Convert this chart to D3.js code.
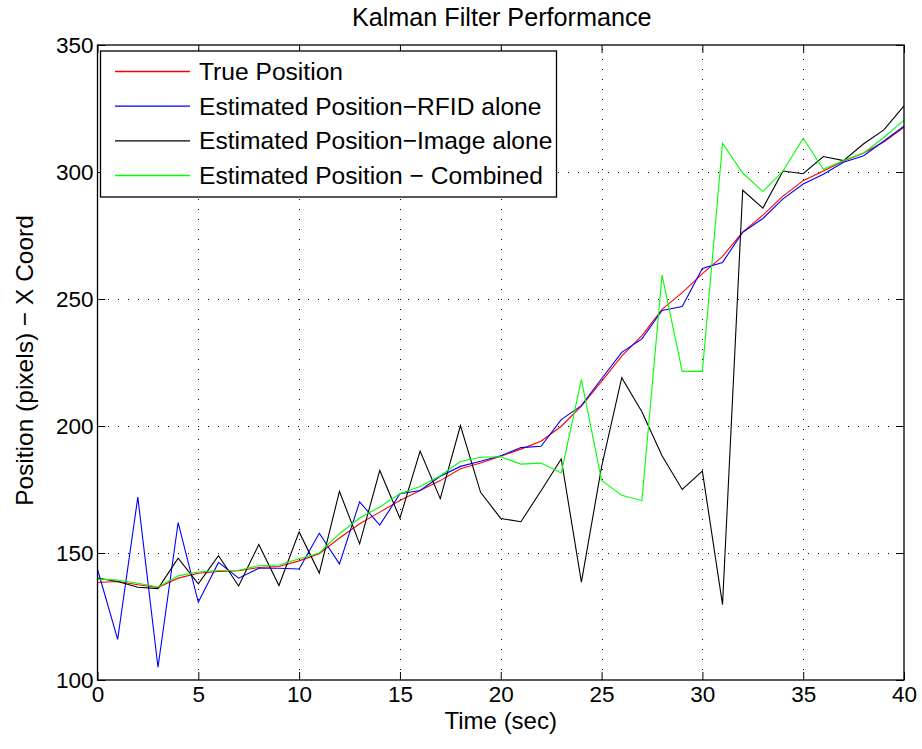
<!DOCTYPE html>
<html>
<head>
<meta charset="utf-8">
<script src="https://cdn.jsdelivr.net/npm/d3@7"></script>
<style>
  html, body { margin: 0; padding: 0; background: #fff; }
  svg { display: block; font-family: "Liberation Sans", Arial, Helvetica, sans-serif; }
</style>
</head>
<body>
<svg id="chart" width="922" height="749"></svg>
<script>
// ---- data ----
const time = d3.range(0, 41);
const truePos = [138.4,138.8,137.5,136.4,140.1,142,142.7,143,144.3,144.7,146.9,149.7,155.9,161.5,166.1,170.7,174.6,178.5,183.2,185.4,188.1,190.9,194,199.9,207.8,217.6,227.5,235.6,245.9,252.5,260,266.8,276.3,283,290.5,296.6,300.4,304.3,307.5,311.8,317.6];
const rfidPos = [143.6,116,172,105,162,130.6,146.3,140.1,144,144,143.7,157.8,145.7,170.1,161,173.3,174.6,180.2,184.1,186.1,188.3,191.5,192,202.5,208,218.6,229,234.3,245.5,247,262,264.4,276.3,281.7,289.4,295.3,299.1,303.8,306.4,312.2,318];
const imagePos = [140.1,138.8,136.5,136,148,137.9,148.9,137,153.3,137.2,158.3,142.1,174.3,153.6,182.5,163.7,190.1,171.4,200.2,173.9,163.6,162.3,174.5,187,138.5,183.9,219,205.6,188.3,175,182.2,129.7,292.8,285.8,300.4,299.3,306.1,304.5,311.1,316.6,326];
const combinedPos = [139.7,139.4,138.1,136.6,141,142.5,143.1,143.2,145,145.3,147.7,150,157.6,163.8,168.1,173.3,176.2,180.4,186,187.7,187.9,185,185.4,181.5,218.3,178.6,172.7,170.6,259.4,221.5,221.5,311.3,299.6,292.3,300.4,313.3,301.1,304.5,307.5,313.6,320.4];

const seriesNames = ["True Position", "Estimated Position\u2212RFID alone", "Estimated Position\u2212Image alone", "Estimated Position \u2212 Combined"];
const seriesColors = ["#ff0000", "#0000ff", "#000000", "#00ff00"];
const seriesData = [truePos, rfidPos, imagePos, combinedPos];

const xTicks = [0,5,10,15,20,25,30,35,40];
const yTicks = [100,150,200,250,300,350];

const titleText = "Kalman Filter Performance";
const xLabel = "Time (sec)";
const yLabel = "Position (pixels) \u2212 X Coord";

// ---- layout ----
const L = 97.5, R = 904, T = 45, B = 680;
const svg = d3.select("#chart");
const x = d3.scaleLinear().domain([0, 40]).range([L, R]);
const y = d3.scaleLinear().domain([100, 350]).range([B, T]);

// grid
const grid = svg.append("g").attr("stroke", "#000").attr("stroke-width", 1).attr("stroke-dasharray", "1,9").attr("shape-rendering", "crispEdges");
grid.selectAll("line.vx").data(xTicks.filter(d => d > 0 && d < 40)).join("line")
  .attr("x1", d => Math.round(x(d)) + 0.5).attr("x2", d => Math.round(x(d)) + 0.5)
  .attr("y1", B).attr("y2", T);
grid.selectAll("line.hy").data(yTicks.filter(d => d > 100 && d < 350)).join("line")
  .attr("y1", d => Math.round(y(d)) + 0.5).attr("y2", d => Math.round(y(d)) + 0.5)
  .attr("x1", L).attr("x2", R);

// lines
const line = d3.line().x((d, i) => x(time[i])).y(d => y(d));
seriesData.forEach((s, k) => {
  svg.append("path").datum(s)
    .attr("fill", "none").attr("stroke", seriesColors[k]).attr("stroke-width", 1.1)
    .attr("stroke-linejoin", "miter")
    .attr("d", line);
});

// axes
const tickFont = 22.5;
const xAxis = svg.append("g").attr("transform", `translate(0,${B})`)
  .call(d3.axisBottom(x).tickValues(xTicks).tickSize(-8).tickPadding(6).tickSizeOuter(0).tickFormat(d3.format("d")));
const yAxis = svg.append("g").attr("transform", `translate(${L},0)`)
  .call(d3.axisLeft(y).tickValues(yTicks).tickSize(-8).tickPadding(4).tickSizeOuter(0).tickFormat(d3.format("d")));
const xTop = svg.append("g").attr("transform", `translate(0,${T})`)
  .call(d3.axisTop(x).tickValues(xTicks).tickSize(-8).tickSizeOuter(0).tickFormat(""));
const yRight = svg.append("g").attr("transform", `translate(${R},0)`)
  .call(d3.axisRight(y).tickValues(yTicks).tickSize(-8).tickSizeOuter(0).tickFormat(""));
[xAxis, yAxis, xTop, yRight].forEach(g => {
  g.select(".domain").remove();
  g.selectAll("line").attr("stroke", "#000").attr("stroke-width", 1);
  g.selectAll("text").attr("font-size", tickFont).attr("font-family", "Liberation Sans, Arial, sans-serif").attr("fill", "#000");
});

// box
svg.append("rect").attr("x", L).attr("y", T).attr("width", R - L).attr("height", B - T)
  .attr("fill", "none").attr("stroke", "#000").attr("stroke-width", 1.3);

// title & labels
svg.append("text").attr("x", (L + R) / 2 + 1).attr("y", 26).attr("text-anchor", "middle")
  .attr("font-size", 25.2).text(titleText);
svg.append("text").attr("x", (L + R) / 2).attr("y", 728.5).attr("text-anchor", "middle")
  .attr("font-size", 24).text(xLabel);
svg.append("text").attr("transform", `translate(33,${(T + B) / 2 - 2}) rotate(-90)`).attr("text-anchor", "middle")
  .attr("font-size", 24.5).text(yLabel);

// legend
const lg = svg.append("g");
lg.append("rect").attr("x", 100.5).attr("y", 51).attr("width", 456).attr("height", 146)
  .attr("fill", "#fff").attr("stroke", "#000").attr("stroke-width", 1.3);
const rowY = d3.scaleLinear().domain([0, 3]).range([71.5, 175.5]);
seriesNames.forEach((name, k) => {
  lg.append("line").attr("x1", 115).attr("x2", 190).attr("y1", rowY(k)).attr("y2", rowY(k))
    .attr("stroke", seriesColors[k]).attr("stroke-width", 1.4);
  lg.append("text").attr("x", 199).attr("y", rowY(k) + 8.5).attr("font-size", 24.6).text(name);
});
</script>
</body>
</html>
